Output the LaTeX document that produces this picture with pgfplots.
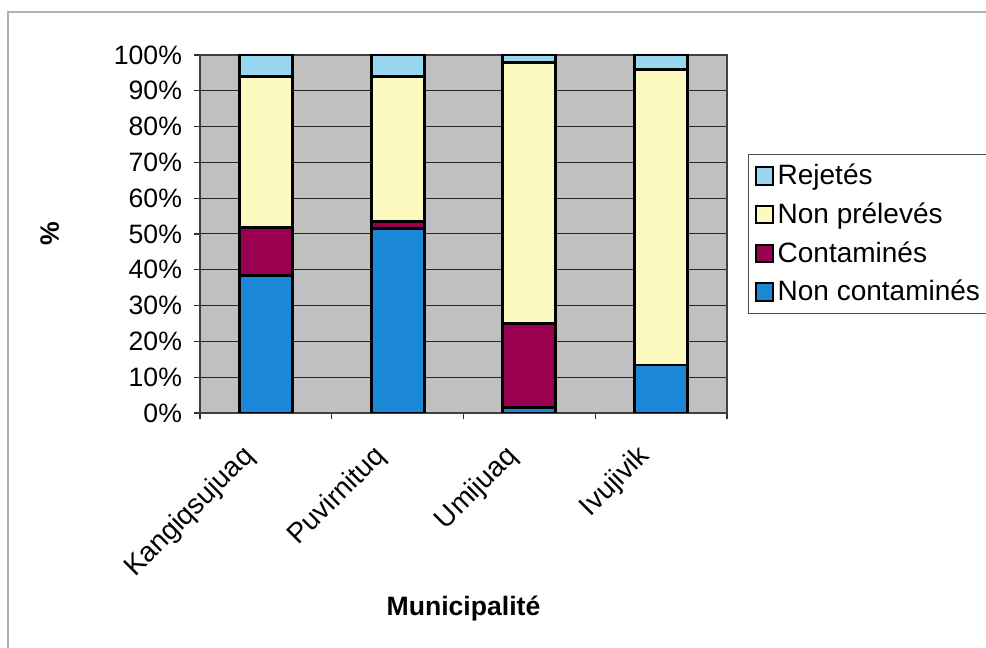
\documentclass[border=0pt]{standalone}
\usepackage{fontspec}
\setmainfont{Liberation Sans}
\usepackage{pgfplots}
\pgfplotsset{compat=1.18}

\definecolor{rejcol}{RGB}{153,214,240}
\definecolor{nplcol}{RGB}{252,250,190}
\definecolor{concol}{RGB}{153,0,80}
\definecolor{ncocol}{RGB}{26,136,214}
\definecolor{plotbg}{RGB}{192,192,192}

\begin{document}
\begin{tikzpicture}
\useasboundingbox (0,0) rectangle (493pt,324pt);
\fill[white] (0,0) rectangle (493pt,324pt);
% chart frame
\draw[gray!60, line width=0.8pt] (4pt,-10pt) rectangle (510pt,318pt);
\begin{axis}[
  at={(100pt,117.5pt)}, anchor=south west,
  scale only axis, width=263.5pt, height=179pt,
  ybar stacked, bar width=26.5pt,
  xmin=-0.5, xmax=3.5, ymin=0, ymax=100,
  xtick={0,1,2,3},
  xticklabels={Kangiqsujuaq,Puvirnituq,Umijuaq,Ivujivik},
  minor xtick={-0.5,0.5,1.5,2.5,3.5},
  major x tick style={draw=none},
  minor tick length=3pt,
  ytick={0,10,...,100},
  yticklabel={\pgfmathprintnumber{\tick}\%},
  major tick length=3pt,
  tick align=outside,
  tick style={gray!40!black, line width=0.6pt},
  xtick pos=bottom, ytick pos=left,
  /pgf/number format/assume math mode=true,
  ticklabel style={font=\fontsize{13.3}{15}\selectfont},
  yticklabel style={xshift=-2.5pt},
  xticklabel style={font=\fontsize{14}{16}\selectfont, rotate=45, anchor=north east, inner sep=1pt, yshift=1.5pt, xshift=-16.3pt},
  ymajorgrids,
  grid style={gray!30!black, line width=0.5pt},
  axis background/.style={fill=plotbg},
  axis line style={gray!50!black, line width=0.6pt},
  xlabel={\textbf{Municipalité}},
  ylabel={\textbf{\%}},
  label style={font=\fontsize{13.3}{15}\selectfont},
  xlabel style={at={(axis description cs:0.5,-0.545)}, anchor=center},
  ylabel style={at={(axis description cs:-0.285,0.5)}, anchor=center, rotate=0},
  every axis plot/.append style={draw=black, line width=1.4pt},
  reverse legend,
  legend style={at={(1.04,0.5)}, anchor=west, draw=gray!60!black, line width=0.6pt,
    font=\fontsize{14}{16}\selectfont, row sep=3.5pt, inner sep=3pt,
    cells={anchor=west}},
  legend image code/.code={\draw[#1, line width=1pt] (0.5pt,-4.3pt) rectangle (9pt,4.3pt);},
]
\addplot[fill=ncocol] coordinates {(0,38.4) (1,51.6) (2,1.6) (3,13.4)};
\addplot[fill=concol] coordinates {(0,13.5) (1,1.8) (2,23.3) (3,0)};
\addplot[fill=nplcol] coordinates {(0,42.2) (1,40.7) (2,73.0) (3,82.6)};
\addplot[fill=rejcol] coordinates {(0,5.9) (1,5.9) (2,2.1) (3,4.0)};
\legend{Non contaminés,Contaminés,Non prélevés,Rejetés}
\end{axis}
\end{tikzpicture}
\end{document}
